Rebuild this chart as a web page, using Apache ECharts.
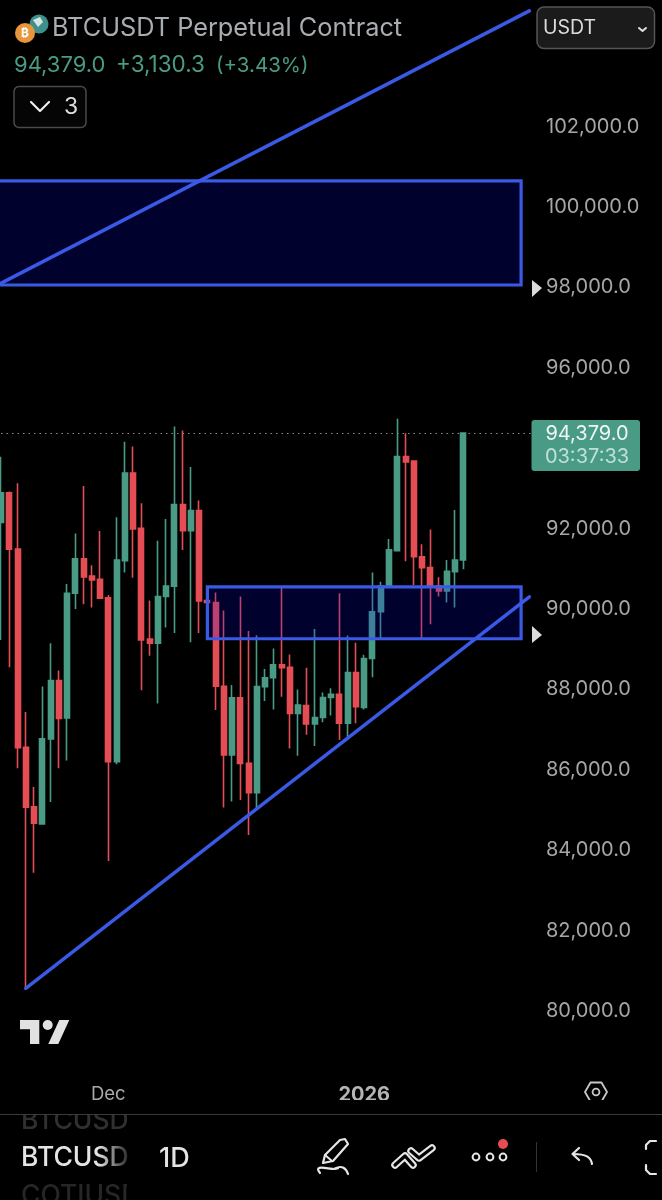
<!DOCTYPE html>
<html><head><meta charset="utf-8">
<style>html,body{margin:0;padding:0;background:#000}#c{width:662px;height:1200px}</style>
<script src="https://cdn.jsdelivr.net/npm/echarts@6/dist/echarts.min.js"></script>
</head><body><div id="c"></div>
<script>
const categories = ['2025-11-18','2025-11-19','2025-11-20','2025-11-21','2025-11-22','2025-11-23','2025-11-24','2025-11-25','2025-11-26','2025-11-27','2025-11-28','2025-11-29','2025-11-30',
'2025-12-01','2025-12-02','2025-12-03','2025-12-04','2025-12-05','2025-12-06','2025-12-07','2025-12-08','2025-12-09','2025-12-10','2025-12-11','2025-12-12','2025-12-13','2025-12-14','2025-12-15','2025-12-16','2025-12-17','2025-12-18','2025-12-19','2025-12-20','2025-12-21','2025-12-22','2025-12-23','2025-12-24','2025-12-25','2025-12-26','2025-12-27','2025-12-28','2025-12-29','2025-12-30','2025-12-31',
'2026-01-01','2026-01-02','2026-01-03','2026-01-04','2026-01-05','2026-01-06','2026-01-07','2026-01-08','2026-01-09','2026-01-10','2026-01-11','2026-01-12','2026-01-13',
'2026-01-14','2026-01-15','2026-01-16','2026-01-17','2026-01-18','2026-01-19','2026-01-20','2026-01-21','2026-01-22'];
const opens = [92150,92890,91490,86560,85080,84650,86770,88220,87290,90390,91250,90820,90740,90280,86200,91200,93380,92010,89250,89150,90310,90570,92600,91950,92450,90210,90160,88080,86370,87790,86160,85430,88070,88290,88610,88550,87400,87600,87140,87300,87800,87880,87160,88420,87550,88770,89930,90570,91450,93790,93680,91300,91030,90570,90450,90930,91220];
const closes = [92890,91490,86550,85070,84670,86770,88220,87280,90390,91250,90800,90720,90270,86200,91220,93380,91990,89230,89150,90310,90570,92600,91950,92450,90200,90160,88080,86370,87790,86160,85430,88070,88290,88610,88540,87400,87610,87140,87300,87800,87880,87160,88420,87570,88770,89930,90570,91470,93790,93660,91300,91030,90570,90450,90940,91220,94379];
const lows = [89230,88550,86040,80560,83440,84630,85200,86040,86230,90000,90120,90040,90270,83730,86140,90910,90780,87980,88840,87650,89540,89400,91470,89170,89400,89730,87490,85060,85210,85250,84380,85040,87710,87500,87820,86530,86350,86870,86590,87180,87350,86740,86820,87160,87500,88300,89270,90570,91450,91190,90600,89250,89620,90310,90160,90040,90990];
const highs = [93790,92920,93130,87440,85570,88070,89150,88470,90620,91880,93060,91090,91940,90350,92280,94160,94040,92630,90210,91700,92240,94540,94440,93530,92700,90560,90410,89960,88110,90310,89450,89350,88510,89020,90560,88870,88000,88540,89500,87920,88030,90390,89340,89160,88860,90910,90680,91740,94730,94370,93680,91610,91980,90790,91220,92460,94379];
const yTicks = [80000,82000,84000,86000,88000,90000,92000,94000,96000,98000,100000,102000];
const xTickCats = ['2025-12-01','2026-01-01'];
const xTickLabels = ['Dec','2026'];
const lastPrice = 94379;
const upperTrend = [[-1,98000],[64,104880]];
const lowerTrend = [[3,80560],[64,90300]];
const zones = [[-2,63,100650,98060],[25,63,90550,89260]];

const UP='#4a9b85', DOWN='#e54d54', BLUE='#3a5ae6';
const FONT='Inter, "Noto Sans", sans-serif';
const candle = opens.map((o,i)=>[o,closes[i],lows[i],highs[i]]);
const fmtPrice = v => v.toLocaleString('en-US',{minimumFractionDigits:1,maximumFractionDigits:1});

function lineShape(name,d){return {name,type:'line',data:d,showSymbol:false,symbol:'none',silent:true,z:6,clip:false,
  lineStyle:{color:BLUE,width:3.5,cap:'round'},animation:false};}

function txt(x,y,text,size,fill,extra){return {type:'text',x,y:y+1.5,silent:true,z:20,
  style:{text,fill,font:(extra&&extra.weight||'400')+' '+size+'px '+FONT,textVerticalAlign:'middle',textAlign:(extra&&extra.align)||'left'}};}
function poly(points,stroke,width,closed,smooth){return {type:closed?'polygon':'polyline',silent:true,z:20,shape:{points,smooth:smooth||0},
  style:{stroke,fill:null,lineWidth:width,lineCap:'round',lineJoin:'round'}};}
function solid(points,fill){return {type:'polygon',silent:true,z:20,shape:{points},style:{fill}};}
function circ(cx,cy,r,style){return {type:'circle',silent:true,z:20,shape:{cx,cy,r},style};}
function rct(x,y,w,h,r,style){return {type:'rect',silent:true,z:20,shape:{x,y,width:w,height:h,r},style};}
const ICON='#e6e6e6';
const graphics=[
  circ(39,24,9.5,{fill:'#3f8f8c'}),
  solid([[33,20],[40,17],[43,22],[38,27]],'#d5e6e4'),
  circ(25,33,10,{fill:'#e8963c'}),
  txt(25,32,'₿',12,'#fff',{align:'center',weight:'700'}),
  txt(52,27,'BTCUSDT Perpetual Contract',25.3,'#a9acb1'),
  txt(14,64,'94,379.0',22,UP),
  txt(116,64,'+3,130.3',22.5,UP),
  txt(216,64,'(+3.43%)',20.5,UP),
  rct(14,86.5,72,41,5,{fill:'#050505',stroke:'#4a4a4a',lineWidth:1.5}),
  poly([[31,102],[40,111],[49,102]],'#eee',2.2),
  txt(71,106,'3',23,'#ddd',{align:'center'}),
  rct(537,7,117.5,41.5,7,{fill:'#1b1b1b',stroke:'#555',lineWidth:1.5}),
  txt(543,27,'USDT',19.5,'#ddd'),
  poly([[639,28],[642.5,31],[646,28]],'#ddd',2),
  rct(531.5,420,108.5,51,3,{fill:UP}),
  txt(587,432.5,'94,379.0',20,'#f1f6f4',{align:'center'}),
  txt(587,455.5,'03:37:33',20,'#bfe0d6',{align:'center'}),
  solid([[532,280],[542,288],[532,297]],'#dcdcdc'),
  solid([[532,626],[542,635],[532,643]],'#dcdcdc'),
  solid([[20,1020],[39.3,1020],[39.3,1044],[30,1044],[30,1029.3],[20,1029.3]],'#e2e2e2'),
  circ(47.7,1025,5,{fill:'#e2e2e2'}),
  solid([[59.3,1020],[69.3,1020],[58.3,1044],[48.3,1044]],'#e2e2e2'),
  poly([[585,1092],[590.5,1082.5],[601.5,1082.5],[607,1092],[601.5,1101.5],[590.5,1101.5]],'#c8c8c8',1.8,true),
  circ(596,1092,3.4,{fill:'none',stroke:'#c8c8c8',lineWidth:1.8}),
  txt(21,1120,'BTCUSD',26.5,'#303030',{weight:'500'}),
  rct(0,1100,662,15,0,{fill:'#000'}),
  {type:'line',silent:true,z:21,shape:{x1:0,y1:1114.5,x2:662,y2:1114.5},style:{stroke:'#3a3a3a',lineWidth:1}},
  txt(21,1195,'COTIUSD',26.5,'#262626',{weight:'500'}),
  rct(127,1115,30,85,0,{fill:'#000'}),
  txt(21,1157,'BTCUSD',26.5,'#e4e4e4',{weight:'500'}),
  {type:'rect',silent:true,z:21,shape:{x:98,y:1140,width:34,height:36},style:{fill:{type:'linear',x:0,y:0,x2:1,y2:0,colorStops:[{offset:0,color:'rgba(0,0,0,0)'},{offset:1,color:'rgba(0,0,0,0.92)'}]}}},
  txt(159,1157,'1D',27,'#e4e4e4',{weight:'500'}),
  poly([[323,1163],[325,1155],[340,1140],[345,1139],[348,1144],[333,1161]],ICON,2.2,true),
  poly([[325,1155],[332,1161]],ICON,2),
  {type:'bezierCurve',silent:true,z:20,shape:{x1:320,y1:1173,cpx1:311,cpy1:1162,cpx2:336,cpy2:1172,x2:338,y2:1168},style:{fill:'none',stroke:ICON,lineWidth:2.2,lineCap:'round'}},
  {type:'bezierCurve',silent:true,z:20,shape:{x1:335,y1:1168.5,cpx1:342,cpy1:1165,cpx2:346,cpy2:1168,x2:348,y2:1174},style:{fill:'none',stroke:ICON,lineWidth:2.2,lineCap:'round'}},
  poly([[395,1165],[405,1156],[413,1165]],ICON,7.5),
  poly([[395,1165],[405,1156],[413,1165]],'#000',3.2),
  poly([[411,1151],[419,1158],[432,1148]],ICON,7.5),
  poly([[411,1151],[419,1158],[432,1148]],'#000',3.2),
  circ(476,1157,3.4,{fill:'none',stroke:ICON,lineWidth:2}),
  circ(490,1157,3.4,{fill:'none',stroke:ICON,lineWidth:2}),
  circ(503,1157,3.4,{fill:'none',stroke:ICON,lineWidth:2}),
  circ(503,1144,5,{fill:DOWN}),
  {type:'line',silent:true,z:20,shape:{x1:536.5,y1:1142,x2:536.5,y2:1172},style:{stroke:'#333',lineWidth:1}},
  {type:'bezierCurve',silent:true,z:20,shape:{x1:592,y1:1164,cpx1:591,cpy1:1157,cpx2:586,cpy2:1154,x2:573,y2:1154},style:{fill:'none',stroke:ICON,lineWidth:2.2,lineCap:'round'}},
  poly([[579,1148],[572.5,1154],[579,1160]],ICON,2.2),
  poly([[656,1141],[650,1141],[646,1145],[646,1149]],ICON,2.2),
  poly([[646,1165],[646,1170],[650,1174],[656,1174]],ICON,2.2)
];

const chart = echarts.init(document.getElementById('c'),null,{renderer:'canvas'});
chart.setOption({
  animation:false,backgroundColor:'#000',
  tooltip:{show:false},
  grid:{left:1,width:536.6,top:6,height:1085.4,containLabel:false},
  xAxis:{type:'category',data:categories,boundaryGap:false,axisLine:{show:false},axisTick:{show:false},splitLine:{show:false},
    axisLabel:{margin:-6,interval:(i,v)=>xTickCats.includes(v),color:'#a9a9a9',fontFamily:FONT,fontSize:18.5,
      formatter:v=>{const k=xTickCats.indexOf(v);if(k<0)return '';return k===1?'{b|'+xTickLabels[k]+'}':xTickLabels[k];},
      rich:{b:{fontWeight:700,color:'#b5b5b5',fontFamily:FONT,fontSize:20}}}},
  yAxis:{type:'value',position:'right',min:78000,max:105000,interval:1000,scale:true,
    axisLine:{show:false},axisTick:{show:false},splitLine:{show:false},
    axisLabel:{customValues:yTicks,margin:8.4,color:'#a6a6a6',fontFamily:FONT,fontSize:20,align:'left',padding:[4,0,0,0],
      formatter:v=>yTicks.includes(v)&&v!==94000?fmtPrice(v):''}},
  series:[
    {name:'BTCUSDT',type:'candlestick',data:candle,barWidth:5.5,z:2,clip:false,
      itemStyle:{color:UP,color0:DOWN,borderColor:UP,borderColor0:DOWN,borderWidth:1.6},
      markLine:{silent:true,symbol:'none',animation:false,label:{show:false},
        lineStyle:{color:'#8a8a8a',type:[1.5,4],width:1.2},data:[{yAxis:lastPrice}]}},
    {name:'zones',type:'custom',z:5,clip:false,silent:true,data:zones,
      renderItem:(p,api)=>{
        const a=api.coord([api.value(0),api.value(2)]), b=api.coord([api.value(1),api.value(3)]);
        return {type:'rect',shape:{x:a[0],y:a[1],width:b[0]-a[0],height:b[1]-a[1]},
          style:{fill:'rgba(8,8,255,0.18)',stroke:BLUE,lineWidth:3.2}};
      },encode:{x:[0,1],y:[2,3]}},
    lineShape('upper trend',upperTrend),
    lineShape('lower trend',lowerTrend)
  ],
  graphic:{elements:graphics}
});
</script></body></html>
